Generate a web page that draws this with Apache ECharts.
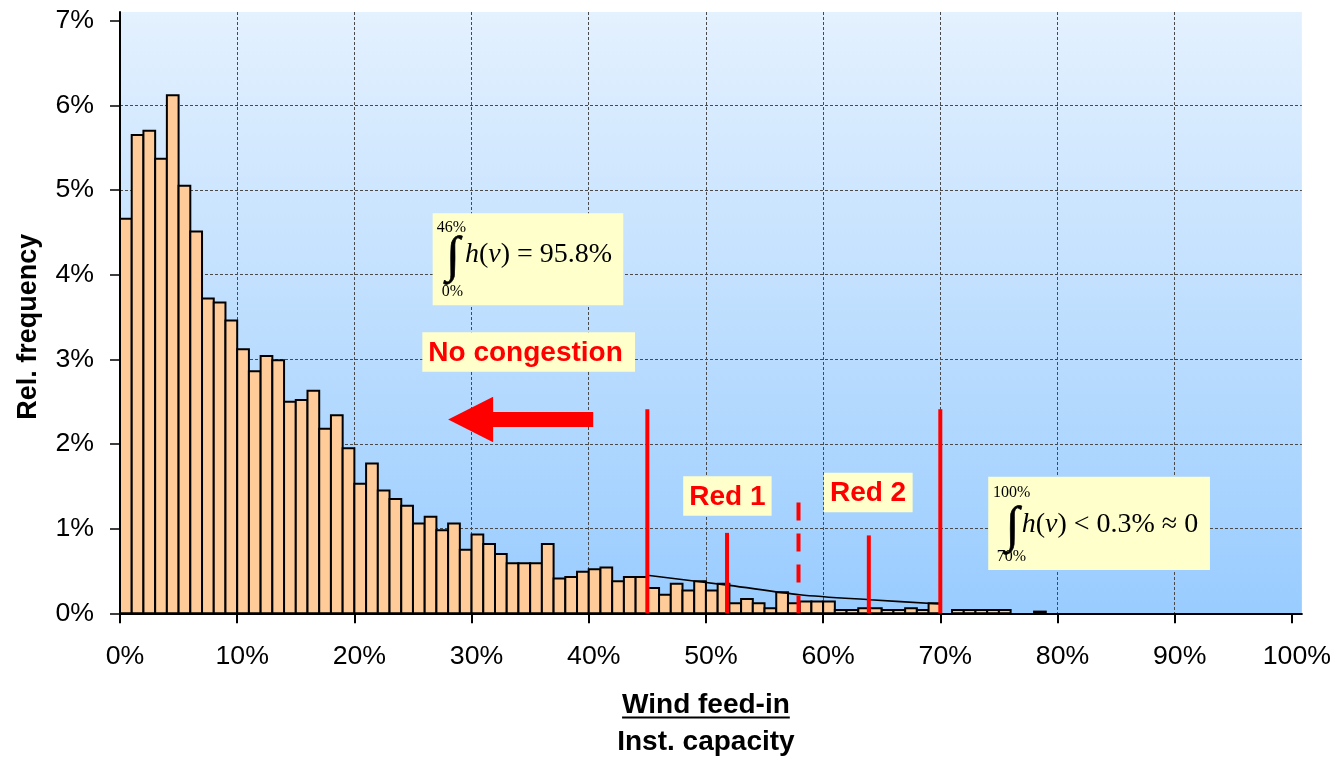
<!DOCTYPE html>
<html><head><meta charset="utf-8">
<script src="https://cdn.jsdelivr.net/npm/echarts@6/dist/echarts.min.js"></script>
<style>html,body{margin:0;padding:0;background:#fff}#c{width:1334px;height:757px}</style>
</head><body><div id="c"></div>
<script>
// ---- data ----
const binStart = [0,1,2,3,4,5,6,7,8,9,10,11,12,13,14,15,16,17,18,19,20,21,22,23,24,25,26,27,28,29,30,31,32,33,34,35,36,37,38,39,40,41,42,43,44,45,46,47,48,49,50,51,52,53,54,55,56,57,58,59,60,61,62,63,64,65,66,67,68,69,70,71,72,73,74,75,76,77,78];
const relFreq = [4.66,5.65,5.70,5.37,6.12,5.05,4.51,3.72,3.67,3.46,
                 3.12,2.86,3.04,2.99,2.50,2.52,2.63,2.18,2.34,1.95,
                 1.53,1.77,1.45,1.35,1.27,1.06,1.14,0.98,1.06,0.75,
                 0.93,0.82,0.70,0.59,0.59,0.59,0.82,0.41,0.43,0.49,
                 0.52,0.54,0.38,0.43,0.43,0.30,0.22,0.35,0.27,0.38,
                 0.27,0.35,0.12,0.17,0.12,0.06,0.25,0.12,0.14,0.14,
                 0.14,0.04,0.04,0.06,0.06,0.04,0.04,0.06,0.04,0.12,
                 0,0.04,0.04,0.04,0.04,0.04,0,0,0.02];
const xTicks = [0,10,20,30,40,50,60,70,80,90,100];
const yTicks = [0,1,2,3,4,5,6,7];
const trendX = [45,52,58,64,70];
const trendY = [0.45,0.33,0.22,0.16,0.11];
const limitX = [45,51.8,57.9,63.9,70];
const limitTop = [2.41,0.95,1.31,0.92,2.41];
const limitDashed = [0,0,1,0,0];
const noteText = ['No congestion','Red 1','Red 2'];
const noteX = [25.8,48.06,60.07];
const noteY = [3.32,1.62,1.66];
const arrowFrom = [40.38];
const arrowTo = [28.0];
const arrowLevel = [2.29];
const formX = [26.68,74.09];
const formY = [4.725,1.614];
const formUpper = ['46%','100%'];
const formLower = ['0%','70%'];
const formRel = ['= 95.8%','< 0.3% \u2248 0'];

// ---- styles / layout ----
const SANS = '"Liberation Sans", Arial, Helvetica, sans-serif';
const SERIF = '"Liberation Serif", "Times New Roman", "DejaVu Serif", serif';
const noteW = [212.7,88.4,88.7];
const formBox = [
  {w:190.6,h:92, up:[4,14.7], int:[20.3,45], main:[32.3,41.7], low:[9,78.2]},
  {w:221.7,h:93.3, up:[4.7,16.3], int:[24.2,51], main:[33.4,48.3], low:[8.4,79.8]}
];

const chart = echarts.init(document.getElementById('c'), null, {renderer:'canvas'});

const barData = [];
binStart.forEach((b,i)=>{ if (relFreq[i] > 0) barData.push([b, relFreq[i]]); });

const option = {
  animation:false,
  grid:{left:120,right:32,top:12,bottom:143.7,show:true,borderWidth:0,
    backgroundColor:{type:'linear',x:0,y:0,x2:0,y2:1,colorStops:[{offset:0,color:'#E4F1FE'},{offset:1,color:'#99CCFF'}]}},
  xAxis:{type:'value',min:0,max:100.853,interval:10,
    axisLine:{show:true,onZero:false,lineStyle:{color:'#000',width:2}},
    axisTick:{show:true,inside:false,length:10,lineStyle:{color:'#000',width:2},customValues:xTicks},
    axisLabel:{customValues:xTicks,margin:30,color:'#000',fontSize:26.7,fontFamily:SANS,padding:[0,0,0,10],
      formatter:v=>(Math.abs(v-Math.round(v))<1e-6 && Math.round(v)%10===0)?Math.round(v)+'%':''},
    splitLine:{show:true,showMinLine:false,showMaxLine:false,lineStyle:{color:'#4a4a4a',width:1,type:[3,2]}}
  },
  yAxis:{type:'value',min:0,max:7.103,interval:1,
    name:'Rel. frequency',nameLocation:'middle',nameGap:78,
    nameTextStyle:{fontFamily:SANS,fontWeight:'bold',fontSize:27,color:'#000',padding:[0,28,0,0]},
    axisLine:{show:true,lineStyle:{color:'#000',width:2}},
    axisTick:{show:true,length:10,lineStyle:{color:'#000',width:1.5},customValues:yTicks},
    axisLabel:{customValues:yTicks,margin:26,color:'#000',fontSize:26.7,fontFamily:SANS,padding:[3,0,0,0],
      formatter:v=>(Math.abs(v-Math.round(v))<1e-6)?Math.round(v)+'%':''},
    splitLine:{show:true,showMinLine:false,showMaxLine:false,lineStyle:{color:'#4a4a4a',width:1,type:[3,2]}}
  },
  series:[
    {type:'custom',name:'Rel. frequency',z:2,clip:false,data:barData,encode:{x:0,y:1},
      renderItem:(params,api)=>{
        const x0 = api.value(0), h = api.value(1);
        const p0 = api.coord([x0,h]), p1 = api.coord([x0+1,0]);
        return {type:'rect',shape:{x:p0[0],y:p0[1],width:p1[0]-p0[0],height:p1[1]-p0[1]},
          style:{fill:'#FFCC99',stroke:'#000',lineWidth:2}};
      }},
    {type:'line',name:'trend',z:3,smooth:0.3,symbol:'none',data:trendX.map((x,i)=>[x,trendY[i]]),
      lineStyle:{color:'#000',width:1.6}},
    {type:'custom',name:'limits',z:4,clip:false,data:limitX.map((x,i)=>[x,limitTop[i],limitDashed[i]]),encode:{x:0,y:1},
      renderItem:(params,api)=>{
        const x = api.value(0), t = api.value(1), d = api.value(2);
        const a = api.coord([x,t]), b = api.coord([x,0]);
        return {type:'line',shape:{x1:a[0],y1:a[1],x2:b[0],y2:b[1]},
          style:{stroke:'#FF0000',lineWidth:4,lineDash:d?[18,13]:null}};
      }},
    {type:'custom',name:'arrow',z:5,clip:false,data:arrowFrom.map((f,i)=>[f,arrowTo[i],arrowLevel[i]]),encode:{x:[0,1],y:2},
      renderItem:(params,api)=>{
        const tail = api.coord([api.value(0),api.value(2)]);
        const tip = api.coord([api.value(1),api.value(2)]);
        const y = tip[1], hl = 45, hw = 22.7, sw = 7.5, bx = tip[0]+hl;
        return {type:'polygon',shape:{points:[[tip[0],y],[bx,y-hw],[bx,y-sw],[tail[0],y-sw],[tail[0],y+sw],[bx,y+sw],[bx,y+hw]]},
          style:{fill:'#FF0000'}};
      }},
    {type:'custom',name:'notes',z:6,clip:false,data:noteX.map((x,i)=>[x,noteY[i]]),encode:{x:0,y:1},
      renderItem:(params,api)=>{
        const i = params.dataIndex;
        const p = api.coord([api.value(0),api.value(1)]);
        const h = 39.6;
        return {type:'group',children:[
          {type:'rect',shape:{x:p[0],y:p[1],width:noteW[i],height:h},style:{fill:'#FFFFCC'}},
          {type:'text',style:{text:noteText[i],x:p[0]+6,y:p[1]+h/2+1,align:'left',verticalAlign:'middle',
            font:'bold 28px '+SANS,fill:'#FF0000'}}
        ]};
      }},
    {type:'custom',name:'integrals',z:6,clip:false,data:formX.map((x,i)=>[x,formY[i]]),encode:{x:0,y:1},
      renderItem:(params,api)=>{
        const i = params.dataIndex, L = formBox[i];
        const p = api.coord([api.value(0),api.value(1)]);
        const x = p[0], y = p[1];
        return {type:'group',children:[
          {type:'rect',shape:{x:x,y:y,width:L.w,height:L.h},style:{fill:'#FFFFCC'}},
          {type:'text',style:{text:formUpper[i],x:x+L.up[0],y:y+L.up[1],align:'left',verticalAlign:'middle',font:'16px '+SERIF,fill:'#000'}},
          {type:'text',style:{text:'\u222B',x:x+L.int[0],y:y+L.int[1],align:'center',verticalAlign:'middle',font:'50px '+SERIF,fill:'#000',stroke:'#000',lineWidth:0.6}},
          {type:'text',style:{text:'{i|h}{n|(}{i|v}{n|) '+formRel[i]+'}',x:x+L.main[0],y:y+L.main[1],align:'left',verticalAlign:'middle',
            rich:{i:{fontFamily:SERIF,fontStyle:'italic',fontSize:28,fill:'#000'},n:{fontFamily:SERIF,fontSize:28,fill:'#000'}}}},
          {type:'text',style:{text:formLower[i],x:x+L.low[0],y:y+L.low[1],align:'left',verticalAlign:'middle',font:'16px '+SERIF,fill:'#000'}}
        ]};
      }}
  ]
};
chart.setOption(option);

// x-axis title (two lines, first underlined)
const ctx = document.createElement('canvas').getContext('2d');
ctx.font = 'bold 28px ' + SANS;
const w1 = ctx.measureText('Wind feed-in').width;
const midX = (chart.convertToPixel({gridIndex:0},[0,0])[0] + chart.convertToPixel({gridIndex:0},[100,0])[0]) / 2;
chart.setOption({graphic:[
  {type:'text',style:{text:'Wind feed-in',x:midX,y:705,align:'center',verticalAlign:'middle',font:'bold 28px '+SANS,fill:'#000'}},
  {type:'line',shape:{x1:midX-w1/2,y1:717.5,x2:midX+w1/2,y2:717.5},style:{stroke:'#000',lineWidth:2}},
  {type:'text',style:{text:'Inst. capacity',x:midX,y:742,align:'center',verticalAlign:'middle',font:'bold 28px '+SANS,fill:'#000'}}
]});
</script></body></html>
